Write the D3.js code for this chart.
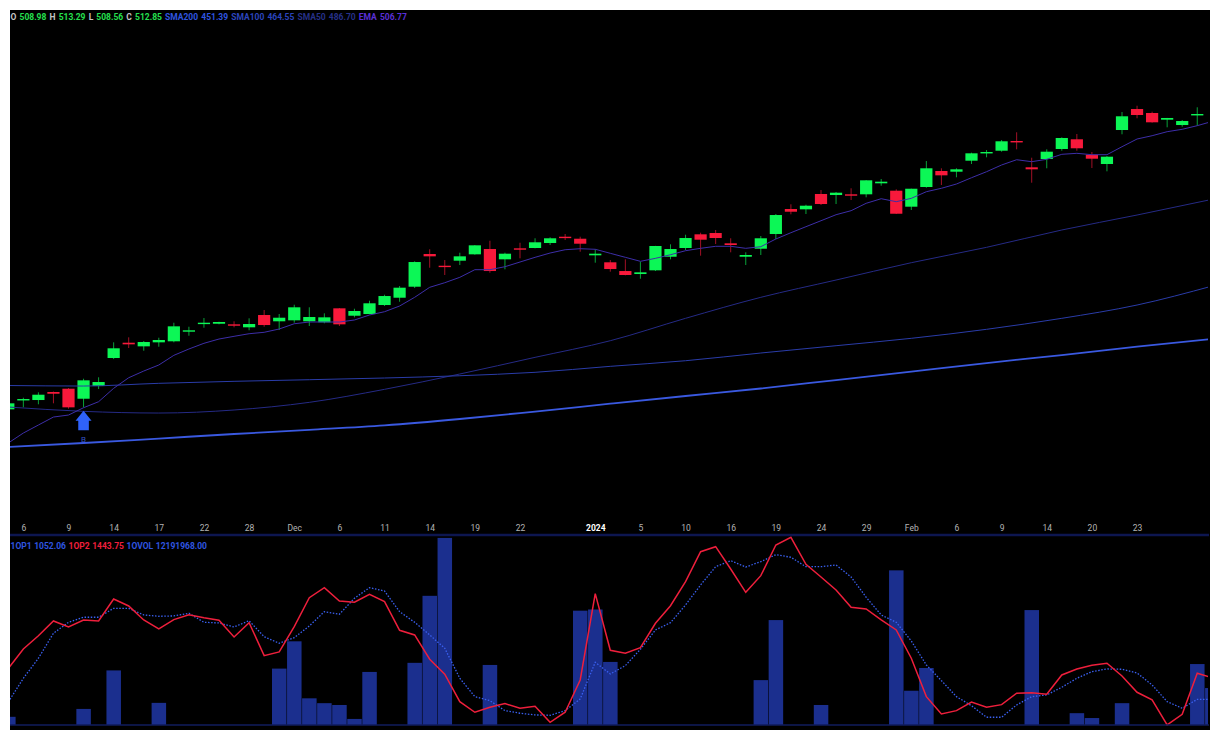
<!DOCTYPE html>
<html>
<head>
<meta charset="utf-8">
<style>
  html, body { margin: 0; padding: 0; background: #fff; }
  svg { display: block; }
  text { font-family: Roboto, sans-serif; }
</style>
</head>
<body>
<svg id="chart" width="1220" height="740"></svg>
<script src="https://cdn.jsdelivr.net/npm/d3@7"></script>
<script>
  // daily candles
  const opens = [433.50,435.79,435.87,437.91,438.75,436.20,439.43,446.56,450.45,449.53,
    450.55,450.81,453.35,455.28,455.28,455.13,454.37,457.50,455.90,456.15,
    455.90,455.64,459.20,457.32,457.75,460.04,461.90,464.70,473.02,470.04,
    471.32,472.94,474.29,471.67,474.47,474.55,475.82,477.42,476.91,472.69,
    470.91,468.69,467.93,468.87,472.33,474.55,478.03,478.36,475.74,472.33,
    474.37,478.11,484.47,484.39,488.29,488.03,488.21,488.21,491.01,489.13,
    485.06,490.07,494.14,493.96,496.76,498.64,499.30,501.77,495.08,497.19,
    499.74,502.21,498.29,495.92,504.57,509.91,508.90,507.19,505.84,508.39];
  const highs = [435.36,436.46,437.83,438.03,438.92,441.29,441.65,450.55,451.82,450.88,
    451.72,455.54,454.52,456.73,455.80,455.90,456.66,458.77,457.75,460.12,
    459.46,457.93,459.28,459.10,461.14,462.66,464.88,471.16,474.22,471.49,
    473.35,475.31,476.40,473.35,475.89,477.02,477.27,478.11,477.42,474.22,
    471.49,471.67,471.06,475.10,475.49,477.93,478.44,479.13,477.02,473.45,
    477.60,483.20,485.67,485.56,489.30,488.80,489.74,491.85,492.10,489.48,
    489.65,496.68,494.83,494.83,498.80,499.48,502.03,503.99,497.52,499.66,
    502.71,503.55,498.97,497.96,509.15,510.75,509.23,507.65,507.12,510.35];
  const lows = [433.33,434.01,434.78,435.03,433.66,434.01,438.67,446.30,449.10,448.41,
    449.43,450.55,452.23,454.27,455.13,454.37,453.61,454.52,453.68,455.54,
    454.70,455.39,454.70,456.91,457.70,459.79,460.88,464.37,469.53,467.68,
    470.22,472.84,468.26,469.13,471.92,474.47,475.31,476.58,473.60,470.81,
    468.52,467.60,466.73,468.69,471.67,474.04,472.59,475.56,473.45,470.22,
    472.77,476.84,483.12,483.20,485.49,485.74,486.76,487.45,490.40,483.20,
    484.22,489.89,490.58,492.54,495.92,497.62,499.05,499.66,491.16,494.83,
    499.30,499.30,494.90,494.06,503.48,507.55,506.43,505.26,505.41,505.67];
  const closes = [435.03,436.12,437.22,437.47,434.01,440.88,440.45,449.03,450.04,450.63,
    451.14,454.62,453.61,455.54,455.72,454.88,455.21,454.95,456.81,459.46,
    456.99,456.91,455.13,458.52,460.48,462.33,464.45,470.98,472.43,469.79,
    472.43,475.23,468.69,473.10,474.11,476.00,477.02,477.17,475.64,473.10,
    469.20,467.68,468.36,475.06,474.29,477.09,476.66,477.09,475.31,472.77,
    477.02,482.94,483.78,485.31,485.74,488.62,487.85,491.77,491.42,483.27,
    489.63,494.83,493.04,494.57,498.64,498.97,501.70,501.44,494.57,499.05,
    502.54,499.92,497.27,497.78,508.06,508.39,506.53,507.63,506.86,508.64];

  const ema = [424.93,427.47,429.51,431.54,432.05,433.91,435.44,438.85,441.54,443.25,
    444.78,447.24,448.85,450.30,451.39,452.08,452.74,453.10,453.94,455.28,
    455.72,455.72,455.72,456.23,457.50,458.34,459.79,462.00,464.55,465.72,
    467.09,469.03,469.03,469.79,470.98,472.18,473.27,474.11,474.37,474.22,
    473.20,472.18,471.16,471.92,472.84,473.86,474.47,474.98,474.98,474.47,
    474.88,476.84,478.44,479.97,481.49,483.02,484.04,485.92,487.09,486.33,
    487.19,488.87,489.74,490.83,492.43,493.96,495.67,497.01,496.51,497.12,
    498.39,498.64,498.29,498.29,500.32,502.28,503.12,504.14,504.75,505.67,506.77];

  // moving averages read every fifth bar
  const smaIdx = [0,5,10,15,20,25,30,35,40,45,50,55,60,65,70,75,80];
  const sma200 = [423.91,424.93,426.07,427.22,428.29,429.43,431.04,432.94,434.93,436.89,438.80,440.96,443.12,445.28,447.32,449.43,451.39];
  const sma100 = [439.56,439.43,440.12,440.63,441.04,441.47,442.05,442.92,444.44,445.87,447.83,449.69,451.57,453.86,456.66,460.04,464.88];
  const sma50 = [434.09,432.99,432.56,433.33,435.28,438.59,442.49,446.73,450.96,456.66,462.00,466.40,470.81,474.72,479.13,482.94,486.94];

  // lower panel
  const op1 = [1003,1433,1796,2249,2448,2539,2539,2702,2702,2581,
    2557,2563,2612,2448,2436,2363,2477,2187,2068,2169,
    2381,2641,2593,2884,3076,3016,2641,2448,2218,1977,
    1433,1100,1027,846,799,768,762,846,1058,1723,
    1511,1662,1959,2309,2441,2762,3125,3456,3565,3451,
    3547,3674,3627,3456,3456,3487,3270,2902,2581,2448,
    2109,1674,1390,1100,936,726,726,949,1100,1131,
    1270,1433,1553,1602,1596,1529,1312,1009,889,1052,1052.06];
  const op2 = [1611,1964,2205,2472,2363,2490,2472,2871,2744,2490,
    2327,2496,2586,2532,2485,2182,2441,1843,1910,2369,
    2894,3076,2835,2811,2956,2822,2303,2218,1778,1506,
    1009,817,907,973,889,926,635,817,1402,2967,
    1941,1886,1988,2430,2749,3185,3728,3819,3415,2992,
    3293,3850,3989,3500,3270,3034,2720,2690,2490,2309,
    1796,1100,786,846,1003,907,955,1161,1172,1143,
    1493,1602,1669,1705,1475,1179,1040,586,780,1524,1443.75];
  // volume in millions
  const vol = [2.7,0,0,0,0,5.3,0,18,0,0,
    7.3,0,0,0,0,0,0,0,18.6,27.6,
    8.8,7.2,6.6,2.0,17.5,0,0,20.5,42.6,61.7,
    0,0,19.8,0,0,0,0,0,37.7,38.1,
    20.8,0,0,0,0,0,0,0,0,0,
    14.8,34.6,0,0,6.6,0,0,0,0,51.0,
    11.3,18.8,0,0,0,0,0,0,37.9,0,
    0,3.9,2.3,0,7.2,0,0,0,0,20.1,12.19];

  const tickIdx = [1,4,7,10,13,16,19,22,25,28,31,34,39,42,45,48,51,54,57,60,63,66,69,72,75];
  const tickLabels = ["6","9","14","17","22","28","Dec","6","11","14","19","22","2024","5","10","16","19","24","29","Feb","6","9","14","20","23"];

  const buyIdx = [5];
  const buyPrice = [433.15];

  const upColor = "#0cf756";
  const downColor = "#f8193b";

  const headerItems = [
    ["O", "#c4c4c4"], ["508.98", "#25e04f"], ["H", "#c4c4c4"], ["513.29", "#25e04f"],
    ["L", "#c4c4c4"], ["508.56", "#25e04f"], ["C", "#c4c4c4"], ["512.85", "#25e04f"],
    ["SMA200", "#2f55e0"], ["451.39", "#2f55e0"], ["SMA100", "#2b45bd"], ["464.55", "#2b45bd"],
    ["SMA50", "#263088"], ["486.70", "#263088"], ["EMA", "#5a2fd6"], ["506.77", "#5a2fd6"]
  ];
  const panelItems = [
    ["1OP1", "#2f55e0"], ["1052.06", "#2f55e0"], ["1OP2", "#f01f3c"], ["1443.75", "#f01f3c"],
    ["1OVOL", "#2f55e0"], ["12191968.00", "#2f55e0"]
  ];

  const svg = d3.select("#chart");

  const x = d3.scaleLinear().domain([0, 80]).range([8.3, 1212.3]);
  const y = d3.scaleLinear().domain([420, 530]).range([462.4, 30.06]);
  const yOp = d3.scaleLinear().domain([0, 4000]).range([757.3, 536.7]);
  const yVol = d3.scaleLinear().domain([0, 62]).range([725, 537]);

  svg.append("rect").attr("x", 10).attr("y", 10).attr("width", 1200).attr("height", 720).attr("fill", "#000");

  const defs = svg.append("defs");
  defs.append("clipPath").attr("id", "plotClip").append("rect")
    .attr("x", 10).attr("y", 10).attr("width", 1198).attr("height", 720);

  const plot = svg.append("g").attr("clip-path", "url(#plotClip)");

  // candles
  const candle = plot.append("g").selectAll("g")
    .data(opens.map((o, i) => ({ i: i, o: o, h: highs[i], l: lows[i], c: closes[i] })))
    .join("g");

  candle.append("line")
    .attr("x1", d => x(d.i))
    .attr("x2", d => x(d.i))
    .attr("y1", d => y(d.h))
    .attr("y2", d => y(d.l))
    .attr("stroke", d => d.c >= d.o ? upColor : downColor)
    .attr("stroke-opacity", 0.65)
    .attr("stroke-width", 1);

  candle.append("rect")
    .attr("x", d => x(d.i) - 6.1)
    .attr("width", 12.2)
    .attr("y", d => y(Math.max(d.o, d.c)))
    .attr("height", d => Math.max(1.4, Math.abs(y(d.o) - y(d.c))))
    .attr("fill", d => d.c >= d.o ? upColor : downColor);

  // moving averages
  const smaLine = d3.line().x((d, i) => x(smaIdx[i])).y(d => y(d)).curve(d3.curveMonotoneX);
  plot.append("path").attr("d", smaLine(sma50)).attr("fill", "none").attr("stroke", "#252a85").attr("stroke-width", 1);
  plot.append("path").attr("d", smaLine(sma100)).attr("fill", "none").attr("stroke", "#2a3ca8").attr("stroke-width", 1);
  plot.append("path").attr("d", smaLine(sma200)).attr("fill", "none").attr("stroke", "#3a59e0").attr("stroke-width", 1.8);

  const emaLine = d3.line().x((d, i) => x(i)).y(d => y(d));
  plot.append("path").attr("d", emaLine(ema)).attr("fill", "none").attr("stroke", "#3d2ea8").attr("stroke-width", 1);

  // buy marker
  const arrow = d3.path();
  arrow.moveTo(0, 0);
  arrow.lineTo(8, 10);
  arrow.lineTo(5.3, 10);
  arrow.lineTo(5.3, 19.5);
  arrow.lineTo(-5.3, 19.5);
  arrow.lineTo(-5.3, 10);
  arrow.lineTo(-8, 10);
  arrow.closePath();
  buyIdx.forEach((d, i) => {
    plot.append("path")
      .attr("d", arrow.toString())
      .attr("transform", "translate(" + x(d) + "," + y(buyPrice[i]) + ")")
      .attr("fill", "#2f62fa");
    plot.append("text")
      .attr("x", x(d))
      .attr("y", y(buyPrice[i]) + 31)
      .attr("text-anchor", "middle")
      .attr("font-size", 8)
      .attr("fill", "#3350c0")
      .text("B");
  });

  // volume bars
  plot.append("g").selectAll("rect")
    .data(vol)
    .join("rect")
    .attr("x", (d, i) => x(i) - 7.2)
    .attr("width", 14.5)
    .attr("y", d => yVol(d))
    .attr("height", d => yVol(0) - yVol(d))
    .attr("fill", "#1b2f8e");

  // panel frame lines
  svg.append("line").attr("x1", 10).attr("x2", 1209).attr("y1", 535).attr("y2", 535).attr("stroke", "#0d1650").attr("stroke-width", 2.5);
  svg.append("line").attr("x1", 10).attr("x2", 1209).attr("y1", 725).attr("y2", 725).attr("stroke", "#101c5c").attr("stroke-width", 1.5);

  const op1Line = d3.line().x((d, i) => x(i)).y(d => yOp(d));
  plot.append("path").attr("d", op1Line(op1)).attr("fill", "none").attr("stroke", "#3a60f0")
    .attr("stroke-width", 1.3).attr("stroke-dasharray", "1.5 1.6");
  plot.append("path").attr("d", op1Line(op2)).attr("fill", "none").attr("stroke", "#ee1f3c").attr("stroke-width", 1.5);

  // x axis
  const axis = d3.axisBottom(x).tickValues(tickIdx).tickFormat((d, i) => tickLabels[i]).tickSize(0).tickPadding(0);
  const axisG = svg.append("g").attr("transform", "translate(0,523)").call(axis);
  axisG.select(".domain").remove();
  axisG.selectAll("text")
    .attr("font-family", "Roboto, sans-serif")
    .attr("font-size", 8.5)
    .attr("dy", "0.71em")
    .attr("y", 1.5)
    .attr("fill", d => d === 39 ? "#ffffff" : "#b4b4b4")
    .attr("font-weight", d => d === 39 ? 700 : 400);

  // legends
  function legend(items, startX, baseY, gap) {
    let cx = startX;
    items.forEach(item => {
      const t = svg.append("text")
        .attr("x", cx)
        .attr("y", baseY)
        .attr("font-size", 8.5)
        .attr("font-weight", 700)
        .attr("fill", item[1])
        .text(item[0]);
      cx += t.node().getComputedTextLength() + gap;
    });
  }
  legend(headerItems, 10.5, 20.2, 3.13);
  legend(panelItems, 10.5, 549, 2.6);
</script>
</body>
</html>
